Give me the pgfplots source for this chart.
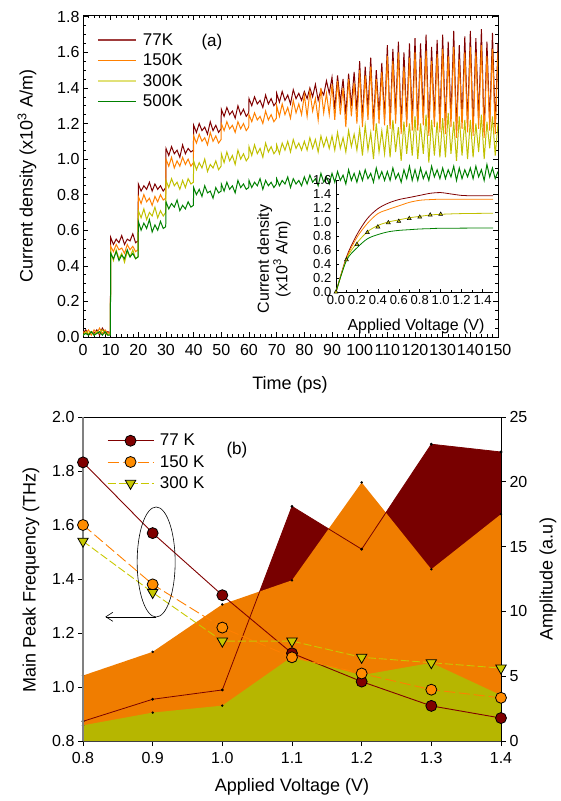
\documentclass[border=0pt]{standalone}
\usepackage{pgfplots}
\pgfplotsset{compat=1.18}
\usepackage{pgfplotstable}
\usepackage{fontspec}
\setmainfont{Liberation Sans}
\usetikzlibrary{arrows.meta}

\definecolor{c77}{RGB}{128,0,0}
\definecolor{c150}{RGB}{255,128,0}
\definecolor{c300}{RGB}{192,192,0}
\definecolor{c500}{RGB}{0,128,0}
\definecolor{f77}{RGB}{120,0,0}
\definecolor{f150}{RGB}{240,125,0}
\definecolor{f300}{RGB}{182,182,0}
\definecolor{m150}{RGB}{255,140,0}
\definecolor{m300}{RGB}{200,200,0}
\definecolor{l77}{RGB}{160,60,60}
\definecolor{l300}{RGB}{225,225,120}

\pgfplotstableread{
t a b c d
0 0.02 0.03 0.01 0.01
1 0.04 0.02 0.03 0.02
2 0.01 0.04 0.02 0.01
3 0.03 0.01 0.03 0.03
4 0.02 0.04 0.01 0.01
5 0.04 0.02 0.03 0.02
6 0.01 0.05 0.02 0.03
7 0.05 0.02 0.04 0.01
8 0.02 0.04 0.02 0.03
9 0.03 0.02 0.01 0.01
9.9 0.02 0.03 0.02 0.01
10 0.56 0.51 0.48 0.47
11 0.52 0.48 0.43 0.44
12 0.55 0.52 0.49 0.48
13 0.53 0.49 0.44 0.43
14 0.57 0.50 0.47 0.46
15 0.52 0.47 0.42 0.44
16 0.55 0.52 0.48 0.49
17 0.54 0.49 0.45 0.45
18 0.58 0.51 0.49 0.47
19 0.53 0.48 0.44 0.44
19.9 0.54 0.49 0.45 0.45
20 0.86 0.79 0.71 0.65
21 0.82 0.75 0.67 0.60
22 0.85 0.80 0.72 0.64
23 0.83 0.76 0.66 0.61
24 0.87 0.78 0.70 0.66
25 0.82 0.74 0.68 0.59
26 0.86 0.79 0.73 0.63
27 0.83 0.76 0.67 0.60
28 0.85 0.80 0.71 0.65
29 0.82 0.77 0.68 0.61
29.9 0.84 0.78 0.70 0.62
30 1.06 1.00 0.88 0.76
31 1.02 0.96 0.84 0.72
32 1.07 1.01 0.89 0.75
33 1.03 0.95 0.85 0.73
34 1.05 0.99 0.87 0.77
35 1.01 0.96 0.83 0.71
36 1.08 1.01 0.88 0.74
37 1.03 0.97 0.84 0.72
38 1.06 1.00 0.89 0.76
39 1.04 0.96 0.86 0.73
39.9 1.05 0.98 0.87 0.74
40 1.19 1.13 0.99 0.84
41 1.15 1.09 0.94 0.80
42 1.20 1.14 0.98 0.83
43 1.16 1.10 0.95 0.79
44 1.18 1.12 1.00 0.85
45 1.14 1.08 0.93 0.81
46 1.21 1.15 0.97 0.82
47 1.16 1.10 0.95 0.78
48 1.19 1.13 0.99 0.84
49 1.15 1.09 0.94 0.81
49.9 1.17 1.11 0.96 0.82
50 1.28 1.20 1.03 0.86
51 1.24 1.16 0.98 0.82
52 1.29 1.21 1.04 0.87
53 1.25 1.17 0.99 0.83
54 1.27 1.19 1.02 0.85
55 1.23 1.15 0.97 0.81
56 1.30 1.21 1.05 0.88
57 1.25 1.17 1.00 0.84
58 1.28 1.20 1.03 0.86
59 1.24 1.16 0.99 0.83
59.9 1.26 1.18 1.01 0.84
60 1.34 1.25 1.07 0.88
61 1.30 1.21 1.02 0.84
62 1.35 1.26 1.08 0.87
63 1.31 1.22 1.03 0.85
64 1.33 1.24 1.06 0.89
65 1.29 1.20 1.01 0.83
66 1.36 1.27 1.09 0.88
67 1.31 1.22 1.04 0.85
68 1.34 1.25 1.07 0.87
69 1.30 1.21 1.03 0.84
69.9 1.32 1.23 1.05 0.86
70 1.37 1.30 1.08 0.89
71 1.32 1.24 1.03 0.85
72 1.38 1.31 1.09 0.88
73 1.33 1.25 1.05 0.86
74 1.36 1.29 1.10 0.90
75 1.31 1.23 1.04 0.84
76 1.39 1.33 1.11 0.89
77 1.34 1.26 1.06 0.86
78 1.37 1.31 1.09 0.88
79 1.33 1.25 1.05 0.85
80 1.38 1.36 1.10 0.90
81 1.34 1.24 1.05 0.86
82 1.40 1.38 1.12 0.91
83 1.35 1.27 1.06 0.87
84 1.42 1.34 1.11 0.89
85 1.33 1.22 1.04 0.85
86 1.39 1.40 1.13 0.92
87 1.36 1.26 1.07 0.87
88 1.44 1.37 1.12 0.90
89 1.37 1.25 1.06 0.86
90 1.46 1.42 1.13 0.92
91 1.28 1.22 1.05 0.87
92 1.47 1.44 1.15 0.93
93 1.32 1.25 1.06 0.88
94 1.45 1.40 1.12 0.91
95 1.25 1.18 1.04 0.86
96 1.48 1.45 1.16 0.94
97 1.30 1.24 1.07 0.88
98 1.49 1.43 1.14 0.92
99 1.27 1.20 1.05 0.87
100 1.55 1.50 1.17 0.93
101 1.22 1.18 1.02 0.88
102 1.52 1.47 1.19 0.94
103 1.28 1.22 1.05 0.89
104 1.57 1.52 1.15 0.92
105 1.20 1.16 1.00 0.87
106 1.50 1.45 1.20 0.95
107 1.25 1.20 1.04 0.89
108 1.54 1.49 1.16 0.93
109 1.23 1.19 1.03 0.88
110 1.64 1.58 1.19 0.93
111 1.20 1.17 1.01 0.88
112 1.62 1.55 1.22 0.95
113 1.25 1.20 1.04 0.89
114 1.66 1.60 1.18 0.92
115 1.18 1.14 0.99 0.87
116 1.60 1.52 1.21 0.94
117 1.22 1.18 1.03 0.89
118 1.65 1.57 1.20 0.96
119 1.21 1.16 1.02 0.88
120 1.68 1.60 1.24 0.94
121 1.19 1.16 1.00 0.88
122 1.65 1.57 1.20 0.95
123 1.24 1.19 1.03 0.89
124 1.70 1.61 1.25 0.93
125 1.17 1.13 0.98 0.88
126 1.63 1.55 1.22 0.96
127 1.22 1.18 1.02 0.90
128 1.67 1.59 1.21 0.94
129 1.20 1.15 1.01 0.89
130 1.70 1.62 1.23 0.95
131 1.18 1.14 1.01 0.89
132 1.66 1.58 1.26 0.94
133 1.23 1.18 1.03 0.90
134 1.72 1.63 1.21 0.96
135 1.16 1.12 0.99 0.88
136 1.64 1.56 1.24 0.95
137 1.21 1.17 1.02 0.89
138 1.69 1.60 1.22 0.94
139 1.19 1.15 1.00 0.90
140 1.72 1.63 1.22 0.95
141 1.17 1.13 1.01 0.89
142 1.68 1.60 1.20 0.96
143 1.22 1.17 1.04 0.90
144 1.73 1.64 1.25 0.94
145 1.15 1.12 1.00 0.88
146 1.66 1.58 1.21 0.97
147 1.20 1.16 1.06 0.90
148 1.71 1.62 1.24 0.95
149 1.18 1.14 1.02 0.89
150 1.65 1.60 1.20 0.93
}\tsdata

\begin{document}
\begin{tikzpicture}
\useasboundingbox (0,0) rectangle (561bp,801bp);

% ---------------- panel (a) ----------------
\begin{axis}[
  at={(83bp,464bp)}, anchor=south west, scale only axis,
  width=415bp, height=322bp,
  xmin=0, xmax=150, ymin=0, ymax=1.81,
  xtick={0,10,20,30,40,50,60,70,80,90,100,110,120,130,140,150},
  ytick={0,0.2,0.4,0.6,0.8,1.0,1.2,1.4,1.6,1.8},
  minor x tick num=4, minor y tick num=3,
  tick align=inside, major tick length=5bp, minor tick length=3bp,
  tick style={black, line width=0.6pt},
  axis line style={line width=0.8pt},
  /pgf/number format/assume math mode=true,
  tick label style={font=\fontsize{16bp}{19bp}\selectfont},
  xticklabel style={yshift=-4bp},
  yticklabel style={/pgf/number format/fixed, /pgf/number format/fixed zerofill, /pgf/number format/precision=1},
  legend style={at={(0.025,0.955)}, anchor=north west, draw=none, fill=none,
    font=\fontsize{17bp}{20bp}\selectfont, row sep=3bp, column sep=4bp, cells={anchor=west}},
  legend image code/.code={\draw[#1] (0bp,0bp) -- (38bp,0bp);},
]
\addplot[c77, line width=1pt, forget plot] table[x=t,y=a] {\tsdata};
\addplot[c150, line width=1pt, forget plot] table[x=t,y=b] {\tsdata};
\addplot[c300, line width=1pt, forget plot] table[x=t,y=c] {\tsdata};
\addplot[c500, line width=1pt, forget plot] table[x=t,y=d] {\tsdata};
\addlegendimage{l77, line width=2.4pt}
\addlegendentry{77K}
\addlegendimage{c150, line width=1.2pt}
\addlegendentry{150K}
\addlegendimage{l300, line width=2.4pt}
\addlegendentry{300K}
\addlegendimage{c500, line width=1.2pt}
\addlegendentry{500K}
\node[font=\fontsize{17bp}{20bp}\selectfont] at (axis cs:46.6,1.66) {(a)};
\end{axis}

% inset
\begin{axis}[
  at={(336bp,509bp)}, anchor=south west, scale only axis,
  width=157bp, height=112bp,
  xmin=0, xmax=1.5, ymin=0, ymax=1.6,
  axis x line*=bottom, axis y line*=left,
  axis line style={-, line width=0.7pt},
  xtick={0,0.2,0.4,0.6,0.8,1.0,1.2,1.4},
  ytick={0,0.2,0.4,0.6,0.8,1.0,1.2,1.4,1.6},
  minor x tick num=1,
  tick align=inside, major tick length=3bp, minor tick length=2bp,
  tick style={black, line width=0.5pt},
  /pgf/number format/assume math mode=true,
  tick label style={font=\fontsize{13bp}{15bp}\selectfont},
  xticklabel style={/pgf/number format/fixed, /pgf/number format/fixed zerofill, /pgf/number format/precision=1, inner sep=0.5bp, yshift=-3bp},
  yticklabel style={/pgf/number format/fixed, /pgf/number format/fixed zerofill, /pgf/number format/precision=1, inner sep=0.5bp, xshift=-4bp},
]
\addplot[c77, line width=0.8pt, smooth] coordinates {(0,0)(0.1,0.5)(0.2,0.82)(0.3,1.05)(0.4,1.19)(0.5,1.27)(0.6,1.32)(0.7,1.35)(0.8,1.38)(0.9,1.41)(1.0,1.42)(1.1,1.40)(1.2,1.38)(1.3,1.375)(1.5,1.375)};
\addplot[c150, line width=0.8pt, smooth] coordinates {(0,0)(0.1,0.48)(0.2,0.78)(0.3,0.98)(0.4,1.12)(0.5,1.18)(0.6,1.23)(0.7,1.28)(0.8,1.31)(0.9,1.32)(1.0,1.325)(1.2,1.325)(1.5,1.325)};
\addplot[c300, line width=0.8pt, smooth] coordinates {(0,0)(0.1,0.47)(0.2,0.7)(0.3,0.86)(0.4,0.95)(0.5,1.0)(0.6,1.03)(0.7,1.06)(0.8,1.08)(0.9,1.1)(1.0,1.11)(1.2,1.12)(1.5,1.125)};
\addplot[c500, line width=0.8pt, smooth] coordinates {(0,0)(0.1,0.45)(0.2,0.63)(0.3,0.76)(0.4,0.82)(0.5,0.86)(0.6,0.88)(0.7,0.89)(0.8,0.9)(0.9,0.905)(1.0,0.91)(1.5,0.915)};
\addplot[only marks, mark=triangle*, mark size=2.3bp, mark options={fill=c300, draw=black, line width=0.5pt}] coordinates {(0,0)(0.1,0.46)(0.2,0.68)(0.3,0.85)(0.4,0.93)(0.5,0.99)(0.6,1.01)(0.7,1.05)(0.8,1.07)(0.9,1.10)(1.0,1.11)};
\end{axis}

% ---------------- panel (b) : amplitude areas ----------------
\begin{axis}[
  at={(83bp,60bp)}, anchor=south west, scale only axis,
  width=418bp, height=324bp,
  xmin=0.8, xmax=1.4, ymin=0, ymax=25,
  axis y line*=right, axis x line*=top,
  xtick=\empty,
  ytick={0,5,10,15,20,25},
  tick align=outside, major tick length=5bp,
  tick style={black, line width=0.6pt},
  axis line style={-, line width=0.8pt},
  /pgf/number format/assume math mode=true,
  tick label style={font=\fontsize{16bp}{19bp}\selectfont},
]
\addplot[fill=f77, draw=none] coordinates {(0.8,1.52)(0.9,3.22)(1.0,3.94)(1.1,18.1)(1.2,14.8)(1.3,22.9)(1.4,22.3)} \closedcycle;
\addplot[fill=f150, draw=none] coordinates {(0.8,5.05)(0.9,6.88)(1.0,10.54)(1.1,12.4)(1.2,19.95)(1.3,13.25)(1.4,17.5)} \closedcycle;
\addplot[only marks, mark=*, mark size=1bp, black] coordinates {(0.8,5.05)(0.9,6.88)(1.0,10.54)(1.1,12.4)(1.2,19.95)(1.3,13.25)(1.4,17.5)};
\addplot[f77, line width=0.8pt, mark=*, mark size=1bp, mark options={black}] coordinates {(0.8,1.52)(0.9,3.22)(1.0,3.94)(1.1,18.1)(1.2,14.8)(1.3,22.9)(1.4,22.3)};
\addplot[fill=f300, draw=none] coordinates {(0.8,1.21)(0.9,2.19)(1.0,2.73)(1.1,6.5)(1.2,5.08)(1.3,6.03)(1.4,3.53)} \closedcycle;
\addplot[only marks, mark=*, mark size=1bp, black] coordinates {(0.8,1.21)(0.9,2.19)(1.0,2.73)};
\end{axis}

% ---------------- panel (b) : frequency ----------------
\begin{axis}[
  at={(83bp,60bp)}, anchor=south west, scale only axis,
  width=418bp, height=324bp,
  xmin=0.8, xmax=1.4, ymin=0.8, ymax=2.0,
  axis x line*=bottom, axis y line*=left,
  x axis line style={-, line width=1pt, black!75},
  y axis line style={-, line width=1.5pt, black!50},
  xtick={0.8,0.9,1.0,1.1,1.2,1.3,1.4},
  ytick={0.8,1.0,1.2,1.4,1.6,1.8,2.0},
  tick align=outside, major tick length=5bp,
  tick style={black, line width=0.6pt},
  /pgf/number format/assume math mode=true,
  tick label style={font=\fontsize{16bp}{19bp}\selectfont},
  xticklabel style={/pgf/number format/fixed, /pgf/number format/fixed zerofill, /pgf/number format/precision=1, yshift=-3bp},
  yticklabel style={/pgf/number format/fixed, /pgf/number format/fixed zerofill, /pgf/number format/precision=1},
  legend style={at={(0.05,0.96)}, anchor=north west, draw=none, fill=none,
    font=\fontsize{17bp}{20bp}\selectfont, row sep=4bp, column sep=4bp, cells={anchor=west}},
  legend image code/.code={\draw[mark repeat=2,mark phase=2,#1] plot coordinates {(0bp,0bp)(23bp,0bp)(46bp,0bp)};},
]
\addplot[c77, line width=0.9pt, mark=*, mark size=5.5bp, mark options={fill=c77, draw=black, line width=0.8pt, solid}] coordinates {(0.8,1.832)(0.9,1.57)(1.0,1.34)(1.1,1.125)(1.2,1.02)(1.3,0.93)(1.4,0.885)};
\addlegendentry{77 K}
\addplot[c150, line width=0.9pt, dash pattern=on 11bp off 4bp, mark=*, mark size=5.5bp, mark options={fill=m150, draw=black, line width=0.8pt, solid}] coordinates {(0.8,1.60)(0.9,1.38)(1.0,1.22)(1.1,1.11)(1.2,1.05)(1.3,0.99)(1.4,0.96)};
\addlegendentry{150 K}
\addplot[m300, line width=0.9pt, dash pattern=on 8bp off 3bp, mark=triangle*, mark size=6bp, mark options={rotate=180, fill=m300, draw=black, line width=0.8pt, solid}] coordinates {(0.8,1.54)(0.9,1.35)(1.0,1.17)(1.1,1.17)(1.2,1.11)(1.3,1.09)(1.4,1.07)};
\addlegendentry{300 K}
\draw[black, line width=0.6pt] (axis cs:0.905,1.463) ellipse [x radius=19bp, y radius=55bp];
\draw[black, line width=0.6pt, {Straight Barb[length=7bp, width=9bp]}-] (axis cs:0.832,1.26) -- (axis cs:0.905,1.26);
\node[font=\fontsize{17bp}{20bp}\selectfont] at (axis cs:1.021,1.878) {(b)};
\end{axis}

% ---------------- axis labels ----------------
\node[font=\fontsize{18bp}{21bp}\selectfont] at (290bp,416bp) {Time (ps)};
\node[font=\fontsize{18bp}{21bp}\selectfont, rotate=90] at (27bp,625bp) {Current density (x10\textsuperscript{3} A/m)};
\node[font=\fontsize{16bp}{17bp}\selectfont, rotate=90, align=center] at (274bp,542bp) {Current density\\(x10\textsuperscript{3} A/m)};
\node[font=\fontsize{16bp}{19bp}\selectfont] at (416bp,475bp) {Applied Voltage (V)};
\node[font=\fontsize{18bp}{21bp}\selectfont] at (292bp,14bp) {Applied Voltage (V)};
\node[font=\fontsize{18bp}{21bp}\selectfont, rotate=90] at (31bp,221bp) {Main Peak Frequency (THz)};
\node[font=\fontsize{18bp}{21bp}\selectfont, rotate=90] at (548bp,222bp) {Amplitude (a.u)};
\end{tikzpicture}
\end{document}
